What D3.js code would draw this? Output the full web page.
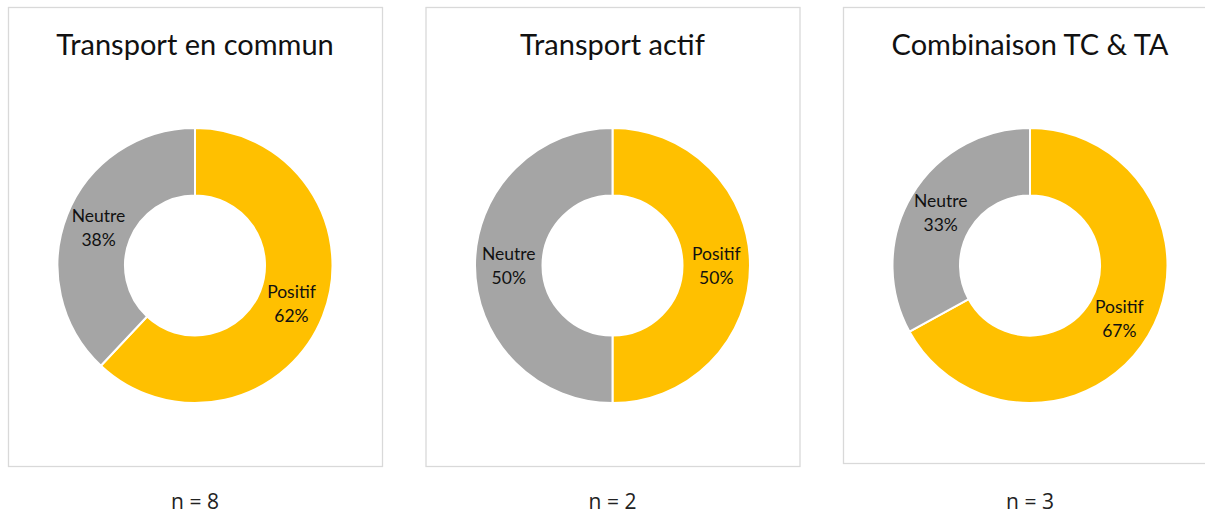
<!DOCTYPE html>
<html>
<head>
<meta charset="utf-8">
<script src="https://cdn.jsdelivr.net/npm/d3@7"></script>
<style>
  body { margin: 0; background: #fff; }
</style>
</head>
<body>
<div id="chart"></div>
<script>
// Données
var titres = ["Transport en commun", "Transport actif", "Combinaison TC & TA"];
var categories = ["Positif", "Neutre"];
var positif = [62, 50, 67];
var neutre = [38, 50, 33];
var effectifs = [8, 2, 3];

var couleurs = d3.scaleOrdinal()
  .domain(categories)
  .range(["#FFC000", "#A5A5A5"]);

var width = 1205, height = 516;

var svg = d3.select("#chart")
  .append("svg")
    .attr("width", width)
    .attr("height", height);

// position des panneaux
var x = d3.scaleBand()
  .domain(titres)
  .range([8, 1217])
  .paddingInner(43.5 / 417.5)
  .paddingOuter(0);

var panelTop = 7, panelBottom = 466;
var cy = 265.5, rOut = 137.5, rIn = 70;

var pie = d3.pie()
  .sort(null)
  .value(function(d) { return d.value; });

var arc = d3.arc()
  .innerRadius(rIn)
  .outerRadius(rOut);

titres.forEach(function(t, i) {
  var x0 = x(t), w = x.bandwidth(), cx = x0 + w / 2;

  svg.append("rect")
    .attr("x", x0 + 0.5)
    .attr("y", panelTop + 0.5)
    .attr("width", w)
    .attr("height", (i == 2 ? 463 : panelBottom) - panelTop)
    .attr("fill", "none")
    .attr("stroke", "#d9d9d9")
    .attr("stroke-width", 1.3);

  svg.append("text")
    .attr("x", cx)
    .attr("y", 55)
    .attr("text-anchor", "middle")
    .style("font-family", "Lato, 'Open Sans', sans-serif")
    .style("font-size", "29px")
    .style("fill", "#111")
    .text(t);

  var data = [
    {cat: categories[0], value: positif[i]},
    {cat: categories[1], value: neutre[i]}
  ];

  var g = svg.append("g")
    .attr("transform", "translate(" + cx + "," + cy + ")");

  var arcs = pie(data);

  g.selectAll("path")
    .data(arcs)
    .enter()
    .append("path")
      .attr("d", arc)
      .attr("fill", function(d) { return couleurs(d.data.cat); })
      .attr("stroke", "#fff")
      .attr("stroke-width", 2);

  var lab = g.selectAll("text.lab")
    .data(arcs)
    .enter()
    .append("text")
      .attr("class", "lab")
      .attr("text-anchor", "middle")
      .style("font-family", "Lato, 'Open Sans', sans-serif")
      .style("font-size", "17.5px")
      .style("fill", "#111")
      .attr("transform", function(d) {
        var c = arc.centroid(d);
        return "translate(" + c[0] + "," + c[1] + ")";
      });

  lab.append("tspan")
    .attr("x", 0)
    .attr("y", -5.5)
    .text(function(d) { return d.data.cat; });
  lab.append("tspan")
    .attr("x", 0)
    .attr("y", 18.5)
    .text(function(d) { return d.data.value + "%"; });

  svg.append("text")
    .attr("x", cx)
    .attr("y", 509)
    .attr("text-anchor", "middle")
    .style("font-family", "'Open Sans', sans-serif")
    .style("font-size", "21px")
    .style("fill", "#222")
    .text("n = " + effectifs[i]);
});
</script>
</body>
</html>
